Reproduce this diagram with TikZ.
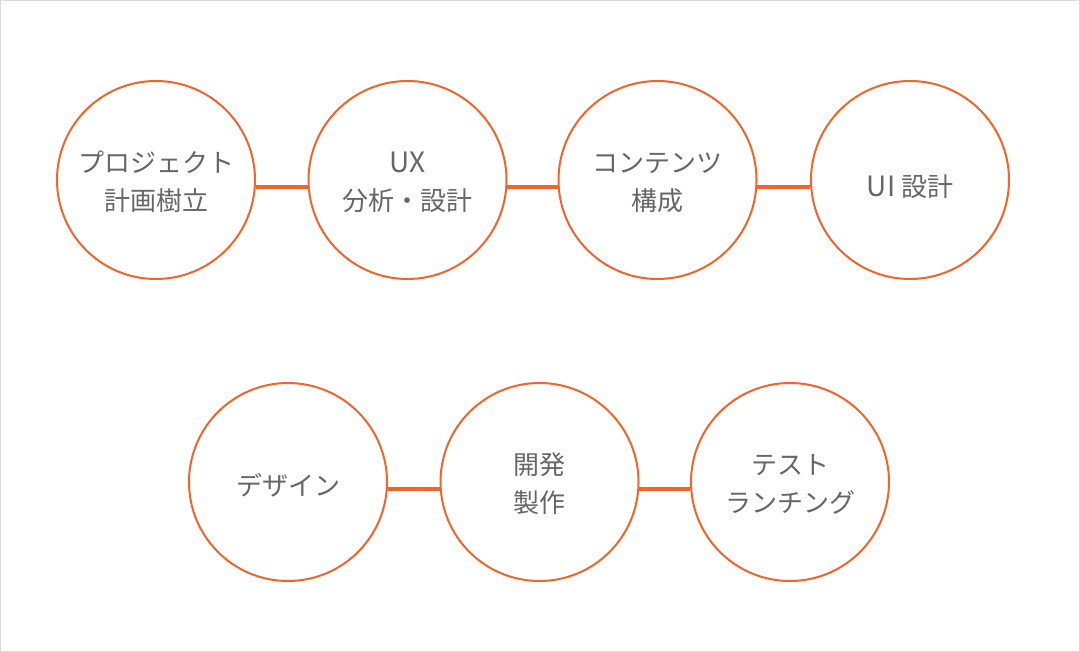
\documentclass[tikz,border=0pt]{standalone}
\usepackage{fontspec}
\setmainfont{Noto Sans CJK JP}
\definecolor{orng}{HTML}{F2652A}
\definecolor{txtgray}{HTML}{666666}
\definecolor{framegray}{HTML}{DADADA}
\newcommand{\lowered}[2]{\raisebox{-#1}[\height][\depth]{#2}}
\newcommand{\twolines}[2]{\lowered{2.8pt}{\begin{tabular}{@{}c@{}}#1\\#2\end{tabular}}}
\tikzset{
  stepcircle/.style={circle, draw=orng, line width=1.5pt, fill=white,
    minimum size=148.5pt, inner sep=0pt, align=center, text=txtgray,
    font=\fontsize{19.5pt}{29pt}\selectfont},
  linkline/.style={draw=orng, line width=3.4pt}
}
\begin{document}
\begin{tikzpicture}[x=0.75pt,y=-0.75pt]
\useasboundingbox (0,0) rectangle (1080,652);
\fill[white] (0,0) rectangle (1080,652);
\draw[framegray, line width=0.75pt] (0.5,0.5) rectangle (1079.5,651.5);

\node[stepcircle] (a) at (156,180) {\twolines{プロジェクト}{計画樹立}};
\node[stepcircle] (b) at (407.5,180) {\twolines{\fontsize{21pt}{29pt}\selectfont UX}{分析・設計}};
\node[stepcircle] (c) at (657.5,180) {\twolines{コンテンツ}{構成}};
\node[stepcircle] (d) at (910,180) {\lowered{5pt}{{\fontsize{21pt}{29pt}\selectfont UI} 設計}};

\node[stepcircle] (e) at (288,482) {\lowered{2.5pt}{デザイン}};
\node[stepcircle] (f) at (539.5,482) {\twolines{開発}{製作}};
\node[stepcircle] (g) at (790,482) {\twolines{テスト}{ランチング}};

\draw[linkline] (a.-4) -- (b.184);
\draw[linkline] (b.-4) -- (c.184);
\draw[linkline] (c.-4) -- (d.184);
\draw[linkline] (e.-4) -- (f.184);
\draw[linkline] (f.-4) -- (g.184);
\end{tikzpicture}
\end{document}
